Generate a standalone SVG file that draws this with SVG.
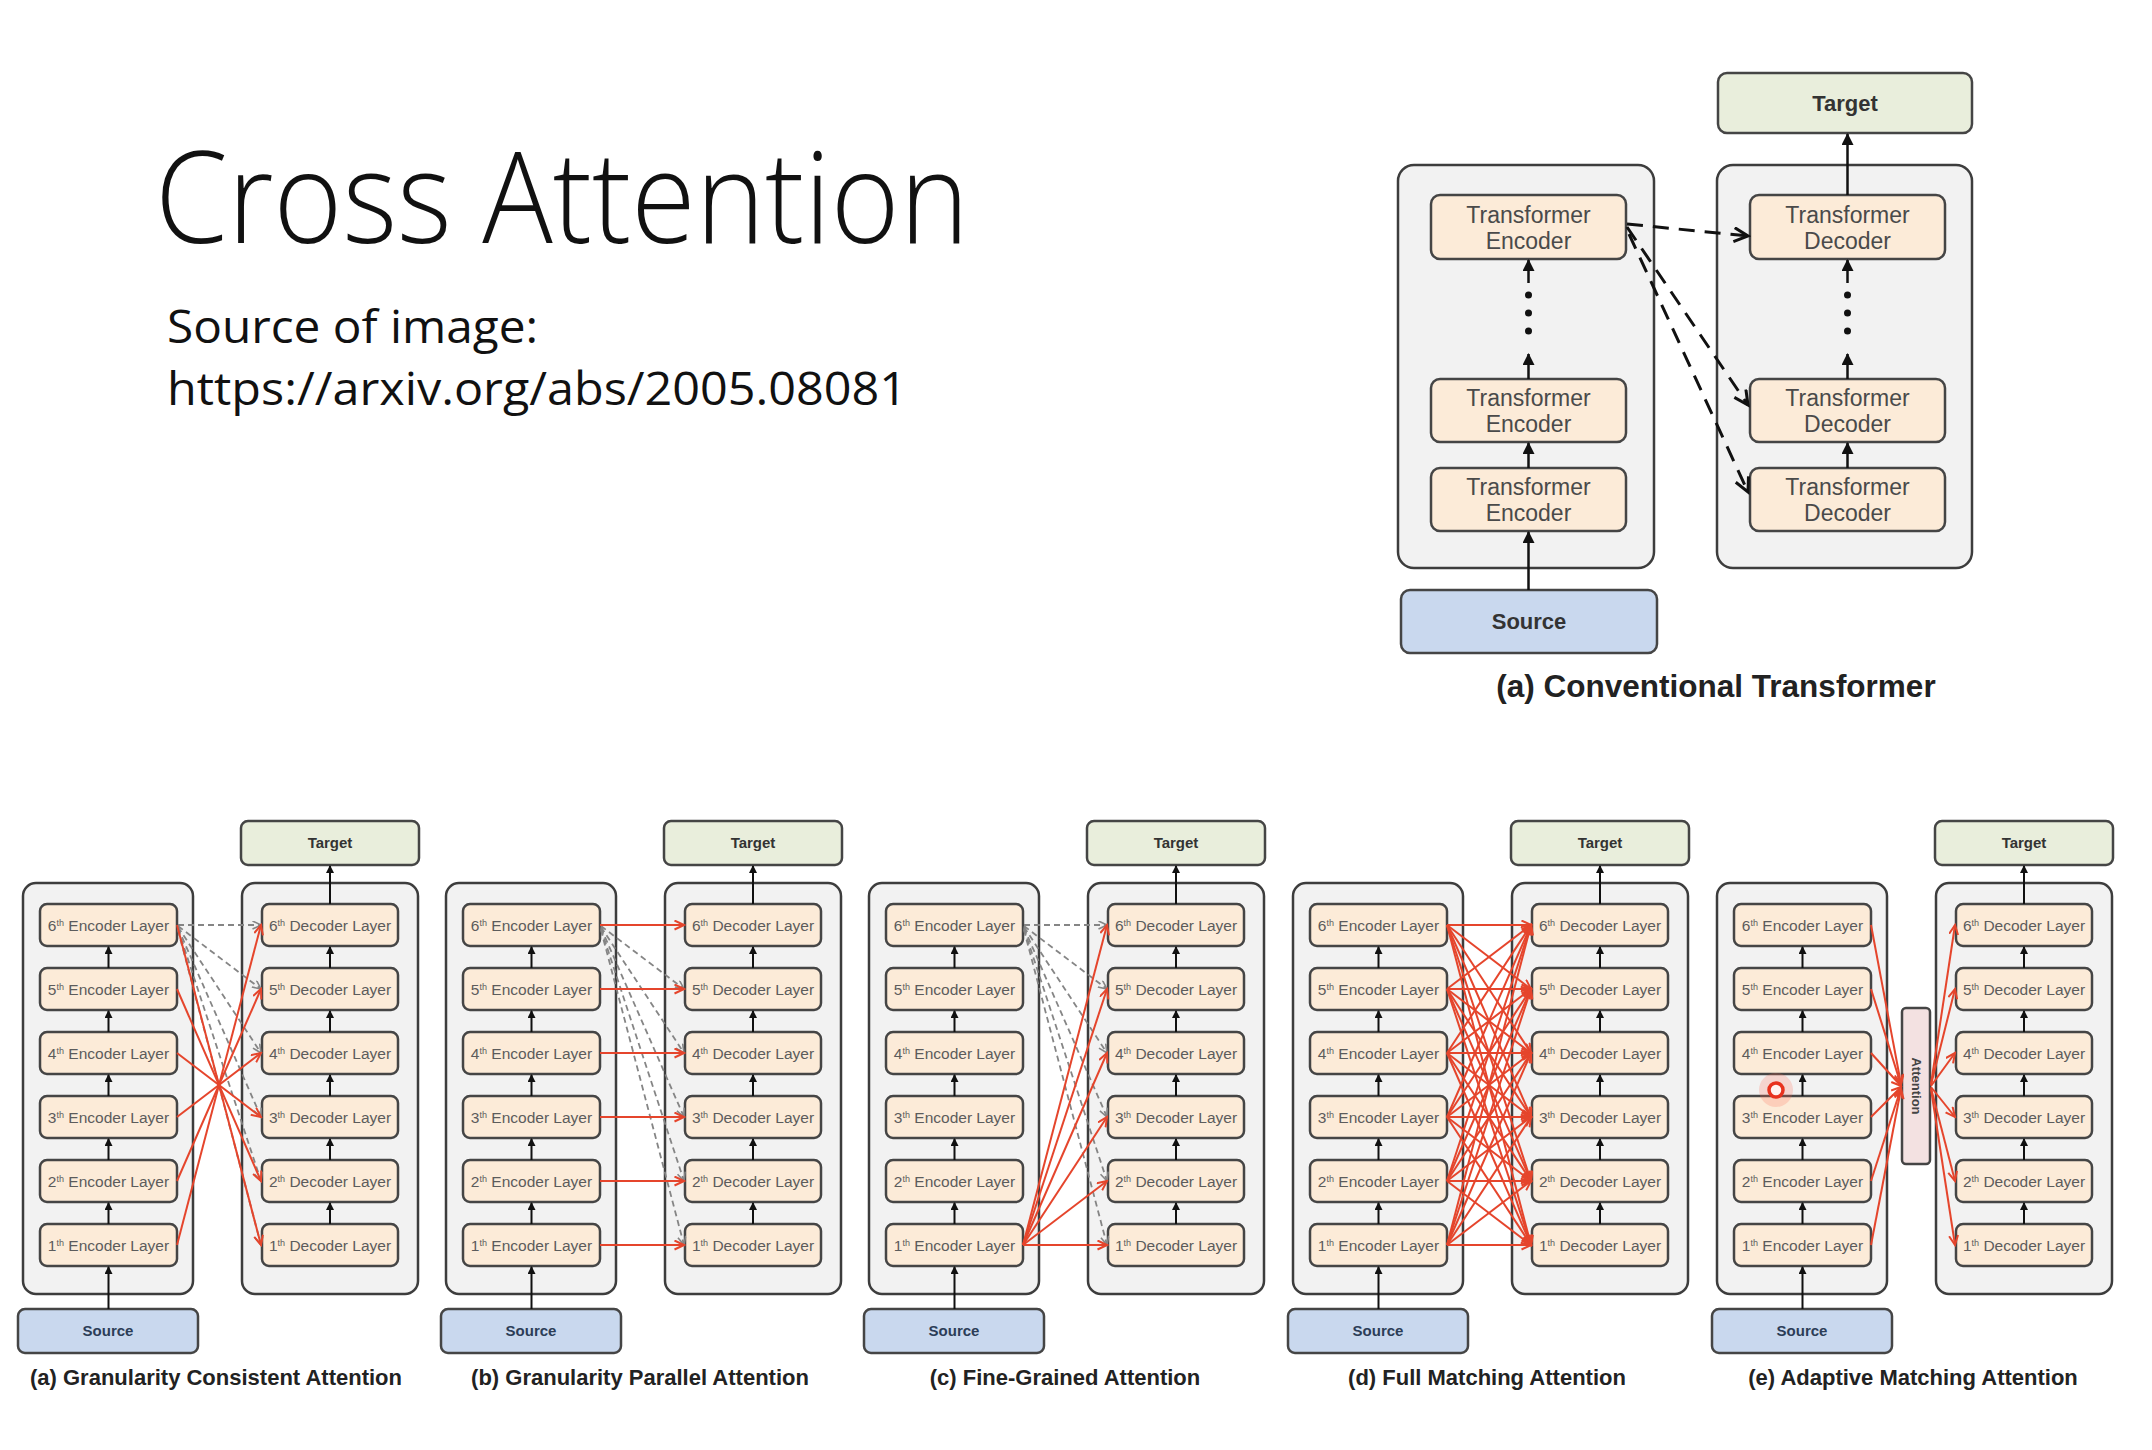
<svg xmlns="http://www.w3.org/2000/svg" width="2152" height="1450" viewBox="0 0 2152 1450">
<style>
.ctr{fill:#f2f2f2;stroke:#3d3d3d;stroke-width:2.5}
.layer{fill:#fcebd8;stroke:#454545;stroke-width:2.5}
.tgt{fill:#e9eedc;stroke:#454545;stroke-width:2.5}
.src{fill:#c9d8ee;stroke:#454545;stroke-width:2.5}
.att{fill:#f3e1e1;stroke:#454545;stroke-width:2.5}
.lt{font-family:"Liberation Sans",Arial,sans-serif;font-size:15.5px;fill:#5c5c5c;text-anchor:middle}
.sup{font-size:9px}
.bt{font-family:"Liberation Sans",Arial,sans-serif;font-weight:bold;font-size:15px;fill:#333;text-anchor:middle}
.at{font-family:"Liberation Sans",Arial,sans-serif;font-weight:bold;font-size:13px;fill:#444;text-anchor:middle}
.st{fill:#2c3d57}
.cap{font-family:"Liberation Sans",Arial,sans-serif;font-weight:bold;font-size:22px;fill:#222;text-anchor:middle}
.cap2{font-family:"Liberation Sans",Arial,sans-serif;font-weight:bold;font-size:31.5px;fill:#222;text-anchor:middle}
.up{stroke:#111;stroke-width:2;fill:none;marker-end:url(#ah)}
.red{stroke:#e5452c;stroke-width:2;fill:none;marker-end:url(#ar)}
.gd{stroke:#858585;stroke-width:1.8;fill:none;stroke-dasharray:6 4;marker-end:url(#ag)}
.tt{font-family:"Liberation Sans",Arial,sans-serif;font-size:23px;fill:#4a4a4a;text-anchor:middle}
.tb{font-family:"Liberation Sans",Arial,sans-serif;font-weight:bold;font-size:22px;fill:#333;text-anchor:middle}
.bup{stroke:#111;stroke-width:2.5;fill:none;marker-end:url(#bah)}
.bd{stroke:#111;stroke-width:3;fill:none;stroke-dasharray:16 10;marker-end:url(#bdv)}
.slide{font-family:"Open Sans","Liberation Sans",sans-serif;fill:#111}
</style>
<defs>
<marker id="ah" markerUnits="userSpaceOnUse" markerWidth="8" markerHeight="8" refX="7" refY="4" orient="auto"><path d="M0,0 L8,4 L0,8 z" fill="#111"/></marker>
<marker id="ar" markerUnits="userSpaceOnUse" markerWidth="12" markerHeight="12" refX="10" refY="5" orient="auto"><path d="M0.5,0.5 L10,5 L0.5,9.5" fill="none" stroke="#e5452c" stroke-width="2"/></marker>
<marker id="ag" markerUnits="userSpaceOnUse" markerWidth="11" markerHeight="11" refX="9" refY="4.5" orient="auto"><path d="M0.5,0.5 L9,4.5 L0.5,8.5" fill="none" stroke="#858585" stroke-width="1.6"/></marker>
<marker id="bah" markerUnits="userSpaceOnUse" markerWidth="12" markerHeight="12" refX="11" refY="6" orient="auto"><path d="M0,0 L12,6 L0,12 z" fill="#111"/></marker>
<marker id="bdv" markerUnits="userSpaceOnUse" markerWidth="18" markerHeight="18" refX="15" refY="8" orient="auto"><path d="M1,1 L15,8 L1,15" fill="none" stroke="#111" stroke-width="3"/></marker>
</defs>
<rect width="2152" height="1450" fill="#ffffff"/>

<g id="title">
<text class="slide" x="155" y="243" font-size="128" font-weight="300" textLength="814" lengthAdjust="spacingAndGlyphs">Cross Attention</text>
<text class="slide" x="167" y="343" font-size="46" textLength="371" lengthAdjust="spacingAndGlyphs">Source of image:</text>
<text class="slide" x="167" y="405" font-size="46" textLength="740" lengthAdjust="spacingAndGlyphs">https://arxiv.org/abs/2005.08081</text>
</g>

<!-- Conventional Transformer -->
<g id="conventional">
<g id="ct-enc" class="node"><rect class="ctr" x="1398" y="165" width="256" height="403" rx="16"/></g>
<g id="ct-dec" class="node"><rect class="ctr" x="1717" y="165" width="255" height="403" rx="16"/></g>
<g id="ct-target" class="node"><rect class="tgt" x="1718" y="73" width="254" height="60" rx="9"/><text class="tb" x="1845" y="111">Target</text></g>
<g id="ct-source" class="node"><rect class="src" x="1401" y="590" width="256" height="63" rx="9"/><text class="tb st" x="1529" y="629">Source</text></g>
<g id="ct-enc1" class="node"><rect class="layer" x="1431" y="195" width="195" height="64" rx="9"/><text class="tt" x="1528.5" y="223">Transformer</text><text class="tt" x="1528.5" y="249">Encoder</text></g>
<g id="ct-enc2" class="node"><rect class="layer" x="1431" y="379" width="195" height="63" rx="9"/><text class="tt" x="1528.5" y="406">Transformer</text><text class="tt" x="1528.5" y="432">Encoder</text></g>
<g id="ct-enc3" class="node"><rect class="layer" x="1431" y="468" width="195" height="63" rx="9"/><text class="tt" x="1528.5" y="495">Transformer</text><text class="tt" x="1528.5" y="521">Encoder</text></g>
<g id="ct-dec1" class="node"><rect class="layer" x="1750" y="195" width="195" height="64" rx="9"/><text class="tt" x="1847.5" y="223">Transformer</text><text class="tt" x="1847.5" y="249">Decoder</text></g>
<g id="ct-dec2" class="node"><rect class="layer" x="1750" y="379" width="195" height="63" rx="9"/><text class="tt" x="1847.5" y="406">Transformer</text><text class="tt" x="1847.5" y="432">Decoder</text></g>
<g id="ct-dec3" class="node"><rect class="layer" x="1750" y="468" width="195" height="63" rx="9"/><text class="tt" x="1847.5" y="495">Transformer</text><text class="tt" x="1847.5" y="521">Decoder</text></g>
<g id="ct-connectors">
<line class="bup" x1="1528.5" y1="590" x2="1528.5" y2="532"/>
<line class="bup" x1="1528.5" y1="468" x2="1528.5" y2="443"/>
<line class="bup" x1="1528.5" y1="379" x2="1528.5" y2="354"/>
<line class="bup" x1="1528.5" y1="283" x2="1528.5" y2="260"/>
<circle cx="1528.5" cy="295" r="3.5" fill="#111"/><circle cx="1528.5" cy="313" r="3.5" fill="#111"/><circle cx="1528.5" cy="331" r="3.5" fill="#111"/>
<line class="bup" x1="1847.5" y1="468" x2="1847.5" y2="443"/>
<line class="bup" x1="1847.5" y1="379" x2="1847.5" y2="354"/>
<line class="bup" x1="1847.5" y1="283" x2="1847.5" y2="260"/>
<circle cx="1847.5" cy="295" r="3.5" fill="#111"/><circle cx="1847.5" cy="313" r="3.5" fill="#111"/><circle cx="1847.5" cy="331" r="3.5" fill="#111"/>
<line class="bup" x1="1847.5" y1="195" x2="1847.5" y2="134"/>
<line class="bd" x1="1627" y1="224" x2="1748" y2="236"/>
<line class="bd" x1="1627" y1="227" x2="1748" y2="405"/>
<line class="bd" x1="1629" y1="234" x2="1748" y2="492"/>
</g>
<text class="cap2" x="1716" y="697">(a) Conventional Transformer</text>
</g>

<!-- Panel (a) -->
<g id="pa" transform="translate(0,0)">
<g id="pa-enc" class="node"><rect class="ctr" x="23" y="883" width="170" height="411" rx="13"/></g>
<g id="pa-dec" class="node"><rect class="ctr" x="242" y="883" width="176" height="411" rx="13"/></g>
<g id="pa-target" class="node"><rect class="tgt" x="241" y="821" width="178" height="44" rx="7"/><text class="bt" x="330" y="848">Target</text></g>
<g id="pa-source" class="node"><rect class="src" x="18" y="1309" width="180" height="44" rx="7"/><text class="bt st" x="108" y="1336">Source</text></g>
<g id="pa-enc6" class="node"><rect class="layer" x="40" y="904" width="137" height="42" rx="7"/><text class="lt" x="108.5" y="930.5">6<tspan class="sup" dy="-5">th</tspan><tspan dy="5"> Encoder Layer</tspan></text></g>
<g id="pa-enc5" class="node"><rect class="layer" x="40" y="968" width="137" height="42" rx="7"/><text class="lt" x="108.5" y="994.5">5<tspan class="sup" dy="-5">th</tspan><tspan dy="5"> Encoder Layer</tspan></text></g>
<g id="pa-enc4" class="node"><rect class="layer" x="40" y="1032" width="137" height="42" rx="7"/><text class="lt" x="108.5" y="1058.5">4<tspan class="sup" dy="-5">th</tspan><tspan dy="5"> Encoder Layer</tspan></text></g>
<g id="pa-enc3" class="node"><rect class="layer" x="40" y="1096" width="137" height="42" rx="7"/><text class="lt" x="108.5" y="1122.5">3<tspan class="sup" dy="-5">th</tspan><tspan dy="5"> Encoder Layer</tspan></text></g>
<g id="pa-enc2" class="node"><rect class="layer" x="40" y="1160" width="137" height="42" rx="7"/><text class="lt" x="108.5" y="1186.5">2<tspan class="sup" dy="-5">th</tspan><tspan dy="5"> Encoder Layer</tspan></text></g>
<g id="pa-enc1" class="node"><rect class="layer" x="40" y="1224" width="137" height="42" rx="7"/><text class="lt" x="108.5" y="1250.5">1<tspan class="sup" dy="-5">th</tspan><tspan dy="5"> Encoder Layer</tspan></text></g>
<g id="pa-dec6" class="node"><rect class="layer" x="262" y="904" width="136" height="42" rx="7"/><text class="lt" x="330" y="930.5">6<tspan class="sup" dy="-5">th</tspan><tspan dy="5"> Decoder Layer</tspan></text></g>
<g id="pa-dec5" class="node"><rect class="layer" x="262" y="968" width="136" height="42" rx="7"/><text class="lt" x="330" y="994.5">5<tspan class="sup" dy="-5">th</tspan><tspan dy="5"> Decoder Layer</tspan></text></g>
<g id="pa-dec4" class="node"><rect class="layer" x="262" y="1032" width="136" height="42" rx="7"/><text class="lt" x="330" y="1058.5">4<tspan class="sup" dy="-5">th</tspan><tspan dy="5"> Decoder Layer</tspan></text></g>
<g id="pa-dec3" class="node"><rect class="layer" x="262" y="1096" width="136" height="42" rx="7"/><text class="lt" x="330" y="1122.5">3<tspan class="sup" dy="-5">th</tspan><tspan dy="5"> Decoder Layer</tspan></text></g>
<g id="pa-dec2" class="node"><rect class="layer" x="262" y="1160" width="136" height="42" rx="7"/><text class="lt" x="330" y="1186.5">2<tspan class="sup" dy="-5">th</tspan><tspan dy="5"> Decoder Layer</tspan></text></g>
<g id="pa-dec1" class="node"><rect class="layer" x="262" y="1224" width="136" height="42" rx="7"/><text class="lt" x="330" y="1250.5">1<tspan class="sup" dy="-5">th</tspan><tspan dy="5"> Decoder Layer</tspan></text></g>
<g id="pa-connectors">
<line class="up" x1="108.5" y1="1309" x2="108.5" y2="1267"/><line class="up" x1="108.5" y1="1224" x2="108.5" y2="1203"/><line class="up" x1="108.5" y1="1160" x2="108.5" y2="1139"/><line class="up" x1="108.5" y1="1096" x2="108.5" y2="1075"/><line class="up" x1="108.5" y1="1032" x2="108.5" y2="1011"/><line class="up" x1="108.5" y1="968" x2="108.5" y2="947"/>
<line class="up" x1="330" y1="1224" x2="330" y2="1203"/><line class="up" x1="330" y1="1160" x2="330" y2="1139"/><line class="up" x1="330" y1="1096" x2="330" y2="1075"/><line class="up" x1="330" y1="1032" x2="330" y2="1011"/><line class="up" x1="330" y1="968" x2="330" y2="947"/><line class="up" x1="330" y1="904" x2="330" y2="866"/>
<line class="gd" x1="178" y1="925" x2="261" y2="925"/><line class="gd" x1="178" y1="926" x2="261" y2="989"/><line class="gd" x1="178" y1="927" x2="261" y2="1053"/><line class="gd" x1="178" y1="928" x2="261" y2="1117"/><line class="gd" x1="178" y1="929" x2="261" y2="1181"/><line class="gd" x1="178" y1="930" x2="261" y2="1245"/>
<line class="red" x1="177" y1="925" x2="261" y2="1245"/><line class="red" x1="177" y1="989" x2="261" y2="1181"/><line class="red" x1="177" y1="1053" x2="261" y2="1117"/><line class="red" x1="177" y1="1117" x2="261" y2="1053"/><line class="red" x1="177" y1="1181" x2="261" y2="989"/><line class="red" x1="177" y1="1245" x2="261" y2="925"/>
</g>
<text class="cap" x="216" y="1385">(a) Granularity Consistent Attention</text>
</g>

<!-- Panel (b) -->
<g id="pb" transform="translate(423,0)">
<g id="pb-enc" class="node"><rect class="ctr" x="23" y="883" width="170" height="411" rx="13"/></g>
<g id="pb-dec" class="node"><rect class="ctr" x="242" y="883" width="176" height="411" rx="13"/></g>
<g id="pb-target" class="node"><rect class="tgt" x="241" y="821" width="178" height="44" rx="7"/><text class="bt" x="330" y="848">Target</text></g>
<g id="pb-source" class="node"><rect class="src" x="18" y="1309" width="180" height="44" rx="7"/><text class="bt st" x="108" y="1336">Source</text></g>
<g id="pb-enc6" class="node"><rect class="layer" x="40" y="904" width="137" height="42" rx="7"/><text class="lt" x="108.5" y="930.5">6<tspan class="sup" dy="-5">th</tspan><tspan dy="5"> Encoder Layer</tspan></text></g>
<g id="pb-enc5" class="node"><rect class="layer" x="40" y="968" width="137" height="42" rx="7"/><text class="lt" x="108.5" y="994.5">5<tspan class="sup" dy="-5">th</tspan><tspan dy="5"> Encoder Layer</tspan></text></g>
<g id="pb-enc4" class="node"><rect class="layer" x="40" y="1032" width="137" height="42" rx="7"/><text class="lt" x="108.5" y="1058.5">4<tspan class="sup" dy="-5">th</tspan><tspan dy="5"> Encoder Layer</tspan></text></g>
<g id="pb-enc3" class="node"><rect class="layer" x="40" y="1096" width="137" height="42" rx="7"/><text class="lt" x="108.5" y="1122.5">3<tspan class="sup" dy="-5">th</tspan><tspan dy="5"> Encoder Layer</tspan></text></g>
<g id="pb-enc2" class="node"><rect class="layer" x="40" y="1160" width="137" height="42" rx="7"/><text class="lt" x="108.5" y="1186.5">2<tspan class="sup" dy="-5">th</tspan><tspan dy="5"> Encoder Layer</tspan></text></g>
<g id="pb-enc1" class="node"><rect class="layer" x="40" y="1224" width="137" height="42" rx="7"/><text class="lt" x="108.5" y="1250.5">1<tspan class="sup" dy="-5">th</tspan><tspan dy="5"> Encoder Layer</tspan></text></g>
<g id="pb-dec6" class="node"><rect class="layer" x="262" y="904" width="136" height="42" rx="7"/><text class="lt" x="330" y="930.5">6<tspan class="sup" dy="-5">th</tspan><tspan dy="5"> Decoder Layer</tspan></text></g>
<g id="pb-dec5" class="node"><rect class="layer" x="262" y="968" width="136" height="42" rx="7"/><text class="lt" x="330" y="994.5">5<tspan class="sup" dy="-5">th</tspan><tspan dy="5"> Decoder Layer</tspan></text></g>
<g id="pb-dec4" class="node"><rect class="layer" x="262" y="1032" width="136" height="42" rx="7"/><text class="lt" x="330" y="1058.5">4<tspan class="sup" dy="-5">th</tspan><tspan dy="5"> Decoder Layer</tspan></text></g>
<g id="pb-dec3" class="node"><rect class="layer" x="262" y="1096" width="136" height="42" rx="7"/><text class="lt" x="330" y="1122.5">3<tspan class="sup" dy="-5">th</tspan><tspan dy="5"> Decoder Layer</tspan></text></g>
<g id="pb-dec2" class="node"><rect class="layer" x="262" y="1160" width="136" height="42" rx="7"/><text class="lt" x="330" y="1186.5">2<tspan class="sup" dy="-5">th</tspan><tspan dy="5"> Decoder Layer</tspan></text></g>
<g id="pb-dec1" class="node"><rect class="layer" x="262" y="1224" width="136" height="42" rx="7"/><text class="lt" x="330" y="1250.5">1<tspan class="sup" dy="-5">th</tspan><tspan dy="5"> Decoder Layer</tspan></text></g>
<g id="pb-connectors">
<line class="up" x1="108.5" y1="1309" x2="108.5" y2="1267"/><line class="up" x1="108.5" y1="1224" x2="108.5" y2="1203"/><line class="up" x1="108.5" y1="1160" x2="108.5" y2="1139"/><line class="up" x1="108.5" y1="1096" x2="108.5" y2="1075"/><line class="up" x1="108.5" y1="1032" x2="108.5" y2="1011"/><line class="up" x1="108.5" y1="968" x2="108.5" y2="947"/>
<line class="up" x1="330" y1="1224" x2="330" y2="1203"/><line class="up" x1="330" y1="1160" x2="330" y2="1139"/><line class="up" x1="330" y1="1096" x2="330" y2="1075"/><line class="up" x1="330" y1="1032" x2="330" y2="1011"/><line class="up" x1="330" y1="968" x2="330" y2="947"/><line class="up" x1="330" y1="904" x2="330" y2="866"/>
<line class="gd" x1="178" y1="926" x2="261" y2="989"/><line class="gd" x1="178" y1="927" x2="261" y2="1053"/><line class="gd" x1="178" y1="928" x2="261" y2="1117"/><line class="gd" x1="178" y1="929" x2="261" y2="1181"/><line class="gd" x1="178" y1="930" x2="261" y2="1245"/>
<line class="red" x1="177" y1="925" x2="261" y2="925"/><line class="red" x1="177" y1="989" x2="261" y2="989"/><line class="red" x1="177" y1="1053" x2="261" y2="1053"/><line class="red" x1="177" y1="1117" x2="261" y2="1117"/><line class="red" x1="177" y1="1181" x2="261" y2="1181"/><line class="red" x1="177" y1="1245" x2="261" y2="1245"/>
</g>
<text class="cap" x="217" y="1385">(b) Granularity Parallel Attention</text>
</g>

<!-- Panel (c) -->
<g id="pc" transform="translate(846,0)">
<g id="pc-enc" class="node"><rect class="ctr" x="23" y="883" width="170" height="411" rx="13"/></g>
<g id="pc-dec" class="node"><rect class="ctr" x="242" y="883" width="176" height="411" rx="13"/></g>
<g id="pc-target" class="node"><rect class="tgt" x="241" y="821" width="178" height="44" rx="7"/><text class="bt" x="330" y="848">Target</text></g>
<g id="pc-source" class="node"><rect class="src" x="18" y="1309" width="180" height="44" rx="7"/><text class="bt st" x="108" y="1336">Source</text></g>
<g id="pc-enc6" class="node"><rect class="layer" x="40" y="904" width="137" height="42" rx="7"/><text class="lt" x="108.5" y="930.5">6<tspan class="sup" dy="-5">th</tspan><tspan dy="5"> Encoder Layer</tspan></text></g>
<g id="pc-enc5" class="node"><rect class="layer" x="40" y="968" width="137" height="42" rx="7"/><text class="lt" x="108.5" y="994.5">5<tspan class="sup" dy="-5">th</tspan><tspan dy="5"> Encoder Layer</tspan></text></g>
<g id="pc-enc4" class="node"><rect class="layer" x="40" y="1032" width="137" height="42" rx="7"/><text class="lt" x="108.5" y="1058.5">4<tspan class="sup" dy="-5">th</tspan><tspan dy="5"> Encoder Layer</tspan></text></g>
<g id="pc-enc3" class="node"><rect class="layer" x="40" y="1096" width="137" height="42" rx="7"/><text class="lt" x="108.5" y="1122.5">3<tspan class="sup" dy="-5">th</tspan><tspan dy="5"> Encoder Layer</tspan></text></g>
<g id="pc-enc2" class="node"><rect class="layer" x="40" y="1160" width="137" height="42" rx="7"/><text class="lt" x="108.5" y="1186.5">2<tspan class="sup" dy="-5">th</tspan><tspan dy="5"> Encoder Layer</tspan></text></g>
<g id="pc-enc1" class="node"><rect class="layer" x="40" y="1224" width="137" height="42" rx="7"/><text class="lt" x="108.5" y="1250.5">1<tspan class="sup" dy="-5">th</tspan><tspan dy="5"> Encoder Layer</tspan></text></g>
<g id="pc-dec6" class="node"><rect class="layer" x="262" y="904" width="136" height="42" rx="7"/><text class="lt" x="330" y="930.5">6<tspan class="sup" dy="-5">th</tspan><tspan dy="5"> Decoder Layer</tspan></text></g>
<g id="pc-dec5" class="node"><rect class="layer" x="262" y="968" width="136" height="42" rx="7"/><text class="lt" x="330" y="994.5">5<tspan class="sup" dy="-5">th</tspan><tspan dy="5"> Decoder Layer</tspan></text></g>
<g id="pc-dec4" class="node"><rect class="layer" x="262" y="1032" width="136" height="42" rx="7"/><text class="lt" x="330" y="1058.5">4<tspan class="sup" dy="-5">th</tspan><tspan dy="5"> Decoder Layer</tspan></text></g>
<g id="pc-dec3" class="node"><rect class="layer" x="262" y="1096" width="136" height="42" rx="7"/><text class="lt" x="330" y="1122.5">3<tspan class="sup" dy="-5">th</tspan><tspan dy="5"> Decoder Layer</tspan></text></g>
<g id="pc-dec2" class="node"><rect class="layer" x="262" y="1160" width="136" height="42" rx="7"/><text class="lt" x="330" y="1186.5">2<tspan class="sup" dy="-5">th</tspan><tspan dy="5"> Decoder Layer</tspan></text></g>
<g id="pc-dec1" class="node"><rect class="layer" x="262" y="1224" width="136" height="42" rx="7"/><text class="lt" x="330" y="1250.5">1<tspan class="sup" dy="-5">th</tspan><tspan dy="5"> Decoder Layer</tspan></text></g>
<g id="pc-connectors">
<line class="up" x1="108.5" y1="1309" x2="108.5" y2="1267"/><line class="up" x1="108.5" y1="1224" x2="108.5" y2="1203"/><line class="up" x1="108.5" y1="1160" x2="108.5" y2="1139"/><line class="up" x1="108.5" y1="1096" x2="108.5" y2="1075"/><line class="up" x1="108.5" y1="1032" x2="108.5" y2="1011"/><line class="up" x1="108.5" y1="968" x2="108.5" y2="947"/>
<line class="up" x1="330" y1="1224" x2="330" y2="1203"/><line class="up" x1="330" y1="1160" x2="330" y2="1139"/><line class="up" x1="330" y1="1096" x2="330" y2="1075"/><line class="up" x1="330" y1="1032" x2="330" y2="1011"/><line class="up" x1="330" y1="968" x2="330" y2="947"/><line class="up" x1="330" y1="904" x2="330" y2="866"/>
<line class="gd" x1="178" y1="925" x2="261" y2="925"/><line class="gd" x1="178" y1="926" x2="261" y2="989"/><line class="gd" x1="178" y1="927" x2="261" y2="1053"/><line class="gd" x1="178" y1="928" x2="261" y2="1117"/><line class="gd" x1="178" y1="929" x2="261" y2="1181"/><line class="gd" x1="178" y1="930" x2="261" y2="1245"/>
<line class="red" x1="177" y1="1245" x2="261" y2="925"/><line class="red" x1="177" y1="1245" x2="261" y2="989"/><line class="red" x1="177" y1="1245" x2="261" y2="1053"/><line class="red" x1="177" y1="1245" x2="261" y2="1117"/><line class="red" x1="177" y1="1245" x2="261" y2="1181"/><line class="red" x1="177" y1="1245" x2="261" y2="1245"/>
</g>
<text class="cap" x="219" y="1385">(c) Fine-Grained Attention</text>
</g>

<!-- Panel (d) -->
<g id="pd" transform="translate(1270,0)">
<g id="pd-enc" class="node"><rect class="ctr" x="23" y="883" width="170" height="411" rx="13"/></g>
<g id="pd-dec" class="node"><rect class="ctr" x="242" y="883" width="176" height="411" rx="13"/></g>
<g id="pd-target" class="node"><rect class="tgt" x="241" y="821" width="178" height="44" rx="7"/><text class="bt" x="330" y="848">Target</text></g>
<g id="pd-source" class="node"><rect class="src" x="18" y="1309" width="180" height="44" rx="7"/><text class="bt st" x="108" y="1336">Source</text></g>
<g id="pd-enc6" class="node"><rect class="layer" x="40" y="904" width="137" height="42" rx="7"/><text class="lt" x="108.5" y="930.5">6<tspan class="sup" dy="-5">th</tspan><tspan dy="5"> Encoder Layer</tspan></text></g>
<g id="pd-enc5" class="node"><rect class="layer" x="40" y="968" width="137" height="42" rx="7"/><text class="lt" x="108.5" y="994.5">5<tspan class="sup" dy="-5">th</tspan><tspan dy="5"> Encoder Layer</tspan></text></g>
<g id="pd-enc4" class="node"><rect class="layer" x="40" y="1032" width="137" height="42" rx="7"/><text class="lt" x="108.5" y="1058.5">4<tspan class="sup" dy="-5">th</tspan><tspan dy="5"> Encoder Layer</tspan></text></g>
<g id="pd-enc3" class="node"><rect class="layer" x="40" y="1096" width="137" height="42" rx="7"/><text class="lt" x="108.5" y="1122.5">3<tspan class="sup" dy="-5">th</tspan><tspan dy="5"> Encoder Layer</tspan></text></g>
<g id="pd-enc2" class="node"><rect class="layer" x="40" y="1160" width="137" height="42" rx="7"/><text class="lt" x="108.5" y="1186.5">2<tspan class="sup" dy="-5">th</tspan><tspan dy="5"> Encoder Layer</tspan></text></g>
<g id="pd-enc1" class="node"><rect class="layer" x="40" y="1224" width="137" height="42" rx="7"/><text class="lt" x="108.5" y="1250.5">1<tspan class="sup" dy="-5">th</tspan><tspan dy="5"> Encoder Layer</tspan></text></g>
<g id="pd-dec6" class="node"><rect class="layer" x="262" y="904" width="136" height="42" rx="7"/><text class="lt" x="330" y="930.5">6<tspan class="sup" dy="-5">th</tspan><tspan dy="5"> Decoder Layer</tspan></text></g>
<g id="pd-dec5" class="node"><rect class="layer" x="262" y="968" width="136" height="42" rx="7"/><text class="lt" x="330" y="994.5">5<tspan class="sup" dy="-5">th</tspan><tspan dy="5"> Decoder Layer</tspan></text></g>
<g id="pd-dec4" class="node"><rect class="layer" x="262" y="1032" width="136" height="42" rx="7"/><text class="lt" x="330" y="1058.5">4<tspan class="sup" dy="-5">th</tspan><tspan dy="5"> Decoder Layer</tspan></text></g>
<g id="pd-dec3" class="node"><rect class="layer" x="262" y="1096" width="136" height="42" rx="7"/><text class="lt" x="330" y="1122.5">3<tspan class="sup" dy="-5">th</tspan><tspan dy="5"> Decoder Layer</tspan></text></g>
<g id="pd-dec2" class="node"><rect class="layer" x="262" y="1160" width="136" height="42" rx="7"/><text class="lt" x="330" y="1186.5">2<tspan class="sup" dy="-5">th</tspan><tspan dy="5"> Decoder Layer</tspan></text></g>
<g id="pd-dec1" class="node"><rect class="layer" x="262" y="1224" width="136" height="42" rx="7"/><text class="lt" x="330" y="1250.5">1<tspan class="sup" dy="-5">th</tspan><tspan dy="5"> Decoder Layer</tspan></text></g>
<g id="pd-connectors">
<line class="up" x1="108.5" y1="1309" x2="108.5" y2="1267"/><line class="up" x1="108.5" y1="1224" x2="108.5" y2="1203"/><line class="up" x1="108.5" y1="1160" x2="108.5" y2="1139"/><line class="up" x1="108.5" y1="1096" x2="108.5" y2="1075"/><line class="up" x1="108.5" y1="1032" x2="108.5" y2="1011"/><line class="up" x1="108.5" y1="968" x2="108.5" y2="947"/>
<line class="up" x1="330" y1="1224" x2="330" y2="1203"/><line class="up" x1="330" y1="1160" x2="330" y2="1139"/><line class="up" x1="330" y1="1096" x2="330" y2="1075"/><line class="up" x1="330" y1="1032" x2="330" y2="1011"/><line class="up" x1="330" y1="968" x2="330" y2="947"/><line class="up" x1="330" y1="904" x2="330" y2="866"/>
<line class="red" x1="177" y1="925" x2="261" y2="925"/><line class="red" x1="177" y1="925" x2="261" y2="989"/><line class="red" x1="177" y1="925" x2="261" y2="1053"/><line class="red" x1="177" y1="925" x2="261" y2="1117"/><line class="red" x1="177" y1="925" x2="261" y2="1181"/><line class="red" x1="177" y1="925" x2="261" y2="1245"/>
<line class="red" x1="177" y1="989" x2="261" y2="925"/><line class="red" x1="177" y1="989" x2="261" y2="989"/><line class="red" x1="177" y1="989" x2="261" y2="1053"/><line class="red" x1="177" y1="989" x2="261" y2="1117"/><line class="red" x1="177" y1="989" x2="261" y2="1181"/><line class="red" x1="177" y1="989" x2="261" y2="1245"/>
<line class="red" x1="177" y1="1053" x2="261" y2="925"/><line class="red" x1="177" y1="1053" x2="261" y2="989"/><line class="red" x1="177" y1="1053" x2="261" y2="1053"/><line class="red" x1="177" y1="1053" x2="261" y2="1117"/><line class="red" x1="177" y1="1053" x2="261" y2="1181"/><line class="red" x1="177" y1="1053" x2="261" y2="1245"/>
<line class="red" x1="177" y1="1117" x2="261" y2="925"/><line class="red" x1="177" y1="1117" x2="261" y2="989"/><line class="red" x1="177" y1="1117" x2="261" y2="1053"/><line class="red" x1="177" y1="1117" x2="261" y2="1117"/><line class="red" x1="177" y1="1117" x2="261" y2="1181"/><line class="red" x1="177" y1="1117" x2="261" y2="1245"/>
<line class="red" x1="177" y1="1181" x2="261" y2="925"/><line class="red" x1="177" y1="1181" x2="261" y2="989"/><line class="red" x1="177" y1="1181" x2="261" y2="1053"/><line class="red" x1="177" y1="1181" x2="261" y2="1117"/><line class="red" x1="177" y1="1181" x2="261" y2="1181"/><line class="red" x1="177" y1="1181" x2="261" y2="1245"/>
<line class="red" x1="177" y1="1245" x2="261" y2="925"/><line class="red" x1="177" y1="1245" x2="261" y2="989"/><line class="red" x1="177" y1="1245" x2="261" y2="1053"/><line class="red" x1="177" y1="1245" x2="261" y2="1117"/><line class="red" x1="177" y1="1245" x2="261" y2="1181"/><line class="red" x1="177" y1="1245" x2="261" y2="1245"/>
</g>
<text class="cap" x="217" y="1385">(d) Full Matching Attention</text>
</g>

<!-- Panel (e) -->
<g id="pe" transform="translate(1694,0)">
<g id="pe-enc" class="node"><rect class="ctr" x="23" y="883" width="170" height="411" rx="13"/></g>
<g id="pe-dec" class="node"><rect class="ctr" x="242" y="883" width="176" height="411" rx="13"/></g>
<g id="pe-target" class="node"><rect class="tgt" x="241" y="821" width="178" height="44" rx="7"/><text class="bt" x="330" y="848">Target</text></g>
<g id="pe-source" class="node"><rect class="src" x="18" y="1309" width="180" height="44" rx="7"/><text class="bt st" x="108" y="1336">Source</text></g>
<g id="pe-attention" class="node"><rect class="att" x="208" y="1008" width="28" height="156" rx="4"/><text class="at" x="0" y="0" transform="translate(217.5,1086) rotate(90)">Attention</text></g>
<g id="pe-enc6" class="node"><rect class="layer" x="40" y="904" width="137" height="42" rx="7"/><text class="lt" x="108.5" y="930.5">6<tspan class="sup" dy="-5">th</tspan><tspan dy="5"> Encoder Layer</tspan></text></g>
<g id="pe-enc5" class="node"><rect class="layer" x="40" y="968" width="137" height="42" rx="7"/><text class="lt" x="108.5" y="994.5">5<tspan class="sup" dy="-5">th</tspan><tspan dy="5"> Encoder Layer</tspan></text></g>
<g id="pe-enc4" class="node"><rect class="layer" x="40" y="1032" width="137" height="42" rx="7"/><text class="lt" x="108.5" y="1058.5">4<tspan class="sup" dy="-5">th</tspan><tspan dy="5"> Encoder Layer</tspan></text></g>
<g id="pe-enc3" class="node"><rect class="layer" x="40" y="1096" width="137" height="42" rx="7"/><text class="lt" x="108.5" y="1122.5">3<tspan class="sup" dy="-5">th</tspan><tspan dy="5"> Encoder Layer</tspan></text></g>
<g id="pe-enc2" class="node"><rect class="layer" x="40" y="1160" width="137" height="42" rx="7"/><text class="lt" x="108.5" y="1186.5">2<tspan class="sup" dy="-5">th</tspan><tspan dy="5"> Encoder Layer</tspan></text></g>
<g id="pe-enc1" class="node"><rect class="layer" x="40" y="1224" width="137" height="42" rx="7"/><text class="lt" x="108.5" y="1250.5">1<tspan class="sup" dy="-5">th</tspan><tspan dy="5"> Encoder Layer</tspan></text></g>
<g id="pe-dec6" class="node"><rect class="layer" x="262" y="904" width="136" height="42" rx="7"/><text class="lt" x="330" y="930.5">6<tspan class="sup" dy="-5">th</tspan><tspan dy="5"> Decoder Layer</tspan></text></g>
<g id="pe-dec5" class="node"><rect class="layer" x="262" y="968" width="136" height="42" rx="7"/><text class="lt" x="330" y="994.5">5<tspan class="sup" dy="-5">th</tspan><tspan dy="5"> Decoder Layer</tspan></text></g>
<g id="pe-dec4" class="node"><rect class="layer" x="262" y="1032" width="136" height="42" rx="7"/><text class="lt" x="330" y="1058.5">4<tspan class="sup" dy="-5">th</tspan><tspan dy="5"> Decoder Layer</tspan></text></g>
<g id="pe-dec3" class="node"><rect class="layer" x="262" y="1096" width="136" height="42" rx="7"/><text class="lt" x="330" y="1122.5">3<tspan class="sup" dy="-5">th</tspan><tspan dy="5"> Decoder Layer</tspan></text></g>
<g id="pe-dec2" class="node"><rect class="layer" x="262" y="1160" width="136" height="42" rx="7"/><text class="lt" x="330" y="1186.5">2<tspan class="sup" dy="-5">th</tspan><tspan dy="5"> Decoder Layer</tspan></text></g>
<g id="pe-dec1" class="node"><rect class="layer" x="262" y="1224" width="136" height="42" rx="7"/><text class="lt" x="330" y="1250.5">1<tspan class="sup" dy="-5">th</tspan><tspan dy="5"> Decoder Layer</tspan></text></g>
<g id="pe-connectors">
<line class="up" x1="108.5" y1="1309" x2="108.5" y2="1267"/><line class="up" x1="108.5" y1="1224" x2="108.5" y2="1203"/><line class="up" x1="108.5" y1="1160" x2="108.5" y2="1139"/><line class="up" x1="108.5" y1="1096" x2="108.5" y2="1075"/><line class="up" x1="108.5" y1="1032" x2="108.5" y2="1011"/><line class="up" x1="108.5" y1="968" x2="108.5" y2="947"/>
<line class="up" x1="330" y1="1224" x2="330" y2="1203"/><line class="up" x1="330" y1="1160" x2="330" y2="1139"/><line class="up" x1="330" y1="1096" x2="330" y2="1075"/><line class="up" x1="330" y1="1032" x2="330" y2="1011"/><line class="up" x1="330" y1="968" x2="330" y2="947"/><line class="up" x1="330" y1="904" x2="330" y2="866"/>
<line class="red" x1="177" y1="925" x2="207" y2="1084"/><line class="red" x1="177" y1="989" x2="207" y2="1085"/><line class="red" x1="177" y1="1053" x2="207" y2="1086"/><line class="red" x1="177" y1="1117" x2="207" y2="1087"/><line class="red" x1="177" y1="1181" x2="207" y2="1088"/><line class="red" x1="177" y1="1245" x2="207" y2="1089"/>
<line class="red" x1="237" y1="1084" x2="261" y2="925"/><line class="red" x1="237" y1="1085" x2="261" y2="989"/><line class="red" x1="237" y1="1086" x2="261" y2="1053"/><line class="red" x1="237" y1="1087" x2="261" y2="1117"/><line class="red" x1="237" y1="1088" x2="261" y2="1181"/><line class="red" x1="237" y1="1089" x2="261" y2="1245"/>
</g>
<text class="cap" x="219" y="1385">(e) Adaptive Matching Attention</text>
</g>

<g id="pointer">
<circle cx="1776" cy="1090" r="17" fill="#ff6a50" fill-opacity="0.22"/>
<circle cx="1776" cy="1090" r="7" fill="#fff3f0" stroke="#e8321e" stroke-width="3.5"/>
</g>
</svg>
